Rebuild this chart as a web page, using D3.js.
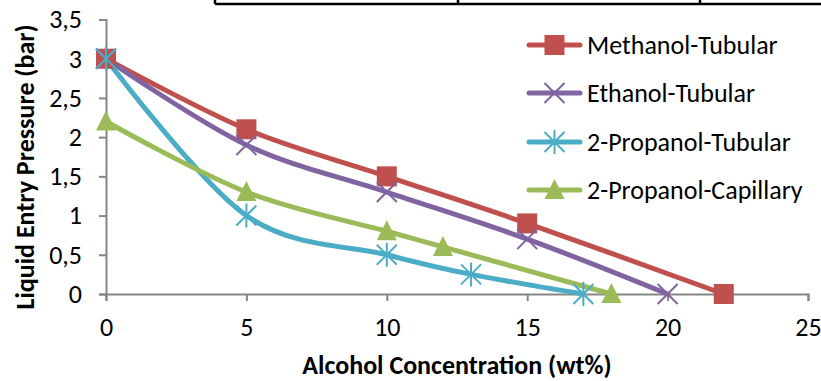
<!DOCTYPE html>
<html>
<head>
<meta charset="utf-8">
<script src="https://cdn.jsdelivr.net/npm/d3@7"></script>
<style>
  html, body { margin: 0; padding: 0; background: #fff; }
  svg { display: block; font-family: Carlito, Calibri, Lato, sans-serif; }
</style>
</head>
<body>
<svg id="chart" width="821" height="381"></svg>
<script>
// Alcohol concentration (wt%) at each measured point, per series
const methanolX = [0, 5, 10, 15, 22];
const methanolY = [3, 2.1, 1.5, 0.9, 0];
const ethanolX = [0, 5, 10, 15, 20];
const ethanolY = [3, 1.9, 1.3, 0.7, 0];
const propTubX = [0, 5, 10, 13, 17];
const propTubY = [3, 1.0, 0.5, 0.25, 0];
const propCapX = [0, 5, 10, 12, 18];
const propCapY = [2.2, 1.3, 0.8, 0.6, 0];

const seriesNames = ["Methanol-Tubular", "Ethanol-Tubular", "2-Propanol-Tubular", "2-Propanol-Capillary"];
const xTicks = [0, 5, 10, 15, 20, 25];
const yTicks = [0, 0.5, 1, 1.5, 2, 2.5, 3, 3.5];

const series = [
  { name: seriesNames[0], xs: methanolX, ys: methanolY, color: "#C0504D", marker: "square" },
  { name: seriesNames[1], xs: ethanolX, ys: ethanolY, color: "#8064A2", marker: "x" },
  { name: seriesNames[2], xs: propTubX, ys: propTubY, color: "#4BACC6", marker: "star" },
  { name: seriesNames[3], xs: propCapX, ys: propCapY, color: "#9BBB59", marker: "triangle" }
];

const svg = d3.select("#chart");
const axisColor = "#868686";

const x = d3.scaleLinear().domain([0, 25]).range([106, 808]);
const y = d3.scaleLinear().domain([0, 3.5]).range([294, 19.5]);

const comma = d => String(d).replace(".", ",");

// header table border running along the top edge
const header = svg.append("g").attr("stroke", "#000").attr("stroke-width", 2.5);
header.append("line").attr("x1", 215).attr("x2", 821).attr("y1", 4).attr("y2", 4);
[215, 458, 700].forEach(px => header.append("line").attr("x1", px).attr("x2", px).attr("y1", 0).attr("y2", 4));

// axes
const xAxis = svg.append("g").attr("transform", `translate(0,${y(0)})`)
  .call(d3.axisBottom(x).tickValues(xTicks).tickSize(7).tickPadding(17).tickFormat(comma));
const yAxis = svg.append("g").attr("transform", `translate(${x(0)},0)`)
  .call(d3.axisLeft(y).tickValues(yTicks).tickSize(7).tickPadding(17).tickFormat(comma));

[xAxis, yAxis].forEach(g => {
  g.select(".domain").attr("stroke", axisColor).attr("stroke-width", 2);
  g.selectAll(".tick line").attr("stroke", axisColor).attr("stroke-width", 2);
  g.selectAll(".tick text").attr("fill", "#000").style("font-size", "26px")
    .style("font-family", "Carlito, Calibri, Lato, sans-serif");
});

// axis titles
svg.append("text")
  .attr("x", 457).attr("y", 374)
  .attr("text-anchor", "middle")
  .style("font-size", "26px").style("font-weight", "bold")
  .text("Alcohol Concentration (wt%)");

svg.append("text")
  .attr("transform", `translate(34,${167}) rotate(-90)`)
  .attr("text-anchor", "middle")
  .style("font-size", "26px").style("font-weight", "bold")
  .text("Liquid Entry Pressure (bar)");

// marker drawing
function drawMarker(g, type, cx, cy, color) {
  const s = 10;
  if (type === "square") {
    g.append("rect").attr("x", cx - s).attr("y", cy - s).attr("width", 2 * s).attr("height", 2 * s)
      .attr("fill", color);
  } else if (type === "triangle") {
    g.append("path").attr("d", `M${cx},${cy - s - 1}L${cx + s},${cy + s - 1}L${cx - s},${cy + s - 1}Z`)
      .attr("fill", color);
  } else if (type === "x") {
    g.append("path").attr("d", `M${cx - s},${cy - s}L${cx + s},${cy + s}M${cx - s},${cy + s}L${cx + s},${cy - s}`)
      .attr("stroke", color).attr("stroke-width", 2);
  } else if (type === "star") {
    g.append("path").attr("d",
      `M${cx - s},${cy - s}L${cx + s},${cy + s}M${cx - s},${cy + s}L${cx + s},${cy - s}M${cx},${cy - s - 2}L${cx},${cy + s + 2}`)
      .attr("stroke", color).attr("stroke-width", 2);
  }
}

const line = d3.line()
  .x(d => x(d[0])).y(d => y(d[1]))
  .curve(d3.curveCatmullRom.alpha(0));

const plot = svg.append("g");
series.forEach(s => {
  const pts = s.xs.map((v, i) => [v, s.ys[i]]);
  plot.append("path").datum(pts)
    .attr("d", line)
    .attr("fill", "none")
    .attr("stroke", s.color)
    .attr("stroke-width", 5)
    .attr("stroke-linejoin", "round")
    .attr("stroke-linecap", "round");
});
series.forEach(s => {
  const g = plot.append("g");
  s.xs.forEach((v, i) => drawMarker(g, s.marker, x(v), y(s.ys[i]), s.color));
});

// legend
const legendRows = [45, 93, 142, 190];
const legend = svg.append("g");
series.forEach((s, i) => {
  const ly = legendRows[i];
  legend.append("line").attr("x1", 529).attr("x2", 580).attr("y1", ly).attr("y2", ly)
    .attr("stroke", s.color).attr("stroke-width", 5).attr("stroke-linecap", "round");
  drawMarker(legend, s.marker, 554.5, ly, s.color);
  legend.append("text").attr("x", 587).attr("y", ly).attr("dy", "0.35em")
    .style("font-size", "26px").text(s.name);
});
</script>
</body>
</html>
